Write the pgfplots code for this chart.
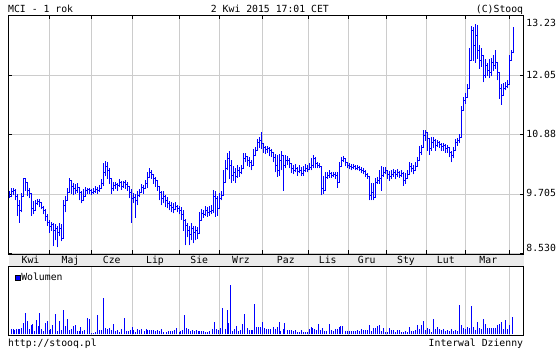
\documentclass[border=0pt]{standalone}
\usepackage{pgfplots}
\pgfplotsset{compat=1.18}
\usepackage{pgfplotstable}
\usepackage{fontspec}
\setmainfont{DejaVu Sans Mono}
\setmonofont{DejaVu Sans Mono}
\definecolor{gridc}{RGB}{204,204,204}
\definecolor{stripc}{RGB}{235,235,235}
\definecolor{pblue}{RGB}{0,0,255}

\pgfplotstableread{
x c h l
9 9.67 9.78 9.63
11 9.76 9.84 9.65
13 9.78 9.84 9.69
15 9.67 9.82 9.59
17 9.49 9.72 9.29
19 9.39 9.59 9.15
21 9.67 9.74 9.35
23 10.02 10.04 9.74
25 9.94 10.02 9.78
27 9.78 9.88 9.67
29 9.72 9.84 9.63
31 9.43 9.59 9.29
33 9.39 9.57 9.31
35 9.53 9.59 9.43
37 9.57 9.61 9.49
39 9.55 9.61 9.45
41 9.45 9.55 9.41
43 9.39 9.47 9.31
45 9.27 9.41 9.19
47 9.15 9.31 9.09
49 9.07 9.21 8.95
51 9.11 9.17 8.99
53 8.99 9.15 8.68
55 9.03 9.13 8.80
57 8.95 9.09 8.66
59 9.03 9.15 8.88
61 8.84 9.13 8.78
63 9.49 9.59 9.31
65 9.59 9.67 9.35
67 9.74 9.84 9.59
69 9.98 10.04 9.74
71 9.86 9.98 9.72
73 9.82 9.94 9.69
75 9.78 9.92 9.71
77 9.84 9.94 9.74
79 9.74 9.82 9.59
81 9.59 9.78 9.53
83 9.67 9.82 9.59
85 9.78 9.86 9.69
87 9.80 9.84 9.72
89 9.78 9.84 9.72
91 9.74 9.82 9.69
93 9.76 9.84 9.72
95 9.80 9.88 9.74
97 9.78 9.86 9.72
99 9.82 9.90 9.76
101 9.92 10.02 9.82
103 10.14 10.32 9.88
105 10.26 10.36 10.08
107 10.18 10.34 10.02
109 10.02 10.22 9.92
111 9.82 9.98 9.72
113 9.88 9.96 9.78
115 9.90 9.96 9.82
117 9.88 9.94 9.78
119 9.94 10.02 9.86
121 9.86 9.98 9.80
123 9.94 9.98 9.84
125 9.90 10.00 9.82
127 9.86 9.96 9.78
129 9.74 9.86 9.63
131 9.63 9.82 9.15
133 9.65 9.74 9.53
135 9.59 9.72 9.25
137 9.69 9.78 9.49
139 9.74 9.82 9.65
141 9.84 9.92 9.74
143 9.82 9.90 9.72
145 9.92 10.00 9.82
147 10.04 10.14 9.84
149 10.14 10.22 10.04
151 10.10 10.18 10.02
153 10.02 10.10 9.92
155 9.98 10.06 9.86
157 9.86 9.96 9.78
159 9.74 9.84 9.59
161 9.63 9.78 9.49
163 9.67 9.78 9.53
165 9.59 9.69 9.45
167 9.53 9.65 9.43
169 9.49 9.57 9.39
171 9.45 9.55 9.35
173 9.41 9.53 9.33
175 9.47 9.55 9.39
177 9.43 9.49 9.35
179 9.39 9.47 9.31
181 9.31 9.45 9.21
183 9.19 9.39 8.99
185 9.09 9.23 8.70
187 8.99 9.15 8.86
189 8.92 9.09 8.70
191 9.03 9.15 8.80
193 8.95 9.09 8.74
195 8.99 9.09 8.80
197 8.93 9.07 8.82
199 9.19 9.35 9.03
201 9.33 9.41 9.23
203 9.31 9.39 9.25
205 9.39 9.47 9.29
207 9.35 9.45 9.27
209 9.37 9.47 9.29
211 9.39 9.49 9.31
213 9.67 9.80 9.33
215 9.63 9.78 9.27
217 9.43 9.67 9.29
219 9.63 9.74 9.53
221 9.69 9.78 9.59
223 9.94 10.18 9.74
225 10.22 10.38 10.06
227 10.42 10.53 10.18
229 10.28 10.57 10.02
231 10.08 10.38 9.94
233 10.14 10.26 9.98
235 10.06 10.22 9.94
237 10.18 10.28 10.04
239 10.14 10.24 10.06
241 10.22 10.28 10.10
243 10.42 10.53 10.22
245 10.46 10.53 10.34
247 10.38 10.46 10.26
249 10.34 10.44 10.24
251 10.28 10.38 10.18
253 10.48 10.61 10.34
255 10.57 10.65 10.46
257 10.73 10.81 10.57
259 10.77 10.85 10.63
261 10.71 10.93 10.61
263 10.63 10.71 10.53
265 10.59 10.67 10.51
267 10.61 10.67 10.53
269 10.57 10.65 10.46
271 10.53 10.61 10.44
273 10.44 10.53 10.34
275 10.28 10.51 10.14
277 10.18 10.48 10.06
279 10.38 10.51 10.08
281 10.48 10.57 10.18
283 10.28 10.46 9.78
285 10.38 10.48 10.22
287 10.38 10.46 10.28
289 10.32 10.42 10.22
291 10.22 10.32 10.12
293 10.18 10.28 10.10
295 10.22 10.30 10.14
297 10.16 10.24 10.08
299 10.18 10.28 10.12
301 10.12 10.24 10.08
303 10.18 10.26 10.08
305 10.22 10.30 10.14
307 10.20 10.28 10.14
309 10.24 10.32 10.18
311 10.28 10.42 10.18
313 10.42 10.48 10.22
315 10.32 10.44 10.22
317 10.28 10.34 10.22
319 10.26 10.32 10.22
321 9.82 10.14 9.69
323 9.78 10.08 9.72
325 10.04 10.14 9.88
327 10.08 10.14 10.02
329 10.12 10.18 10.04
331 10.08 10.14 10.04
333 10.10 10.14 10.06
335 10.08 10.14 10.02
337 9.94 10.14 9.84
339 10.26 10.34 10.08
341 10.38 10.44 10.28
343 10.42 10.46 10.34
345 10.34 10.42 10.26
347 10.28 10.34 10.22
349 10.26 10.32 10.20
351 10.24 10.30 10.18
353 10.26 10.30 10.20
355 10.22 10.28 10.18
357 10.24 10.28 10.18
359 10.20 10.26 10.16
361 10.18 10.24 10.12
363 10.16 10.22 10.10
365 10.10 10.18 10.06
367 10.06 10.12 10.02
369 9.69 10.02 9.59
371 9.74 9.94 9.59
373 9.65 9.94 9.59
375 9.94 10.04 9.88
377 9.98 10.06 9.92
379 10.02 10.18 9.92
381 10.08 10.26 9.78
383 10.14 10.24 10.06
385 10.18 10.24 10.10
387 10.10 10.18 10.02
389 10.06 10.16 9.98
391 10.10 10.18 10.02
393 10.14 10.20 10.06
395 10.10 10.18 10.02
397 10.14 10.20 10.06
399 10.08 10.16 10.04
401 10.12 10.18 10.06
403 9.98 10.14 9.88
405 10.02 10.12 9.92
407 10.10 10.18 10.02
409 10.26 10.34 10.14
411 10.22 10.32 10.14
413 10.18 10.28 10.10
415 10.26 10.34 10.18
417 10.38 10.44 10.26
419 10.53 10.67 10.38
421 10.63 10.69 10.48
423 10.87 10.97 10.65
425 10.93 10.97 10.77
427 10.81 10.93 10.57
429 10.61 10.83 10.48
431 10.73 10.85 10.57
433 10.77 10.85 10.63
435 10.67 10.81 10.57
437 10.73 10.79 10.65
439 10.69 10.77 10.63
441 10.65 10.73 10.57
443 10.67 10.73 10.57
445 10.61 10.71 10.53
447 10.63 10.69 10.53
449 10.53 10.63 10.44
451 10.48 10.57 10.34
453 10.57 10.65 10.42
455 10.73 10.81 10.61
457 10.77 10.83 10.67
459 10.83 10.89 10.73
461 11.36 11.46 10.83
463 11.56 11.64 11.40
465 11.62 11.70 11.50
467 11.80 11.88 11.62
469 12.35 12.59 11.82
471 12.94 13.04 12.59
473 12.65 13.02 12.35
475 12.85 13.08 12.31
477 12.55 13.06 12.39
479 12.35 12.65 12.19
481 12.45 12.59 12.23
483 12.05 12.45 11.92
485 12.25 12.39 12.00
487 12.15 12.31 12.05
489 12.11 12.39 12.00
491 12.31 12.41 12.04
493 12.25 12.45 12.15
495 12.31 12.55 12.19
497 12.11 12.29 11.96
499 11.80 11.96 11.60
501 11.66 11.88 11.48
503 11.80 11.90 11.72
505 11.84 11.92 11.76
507 11.88 11.96 11.80
509 12.35 12.45 11.92
511 12.51 12.55 12.39
513 12.88 13.02 12.49
}\price

\pgfplotstableread{
x v
11 5
13 5
14 4
16 5
18 5
19 5
21 6
23 11
25 21
27 13
29 5
31 9
32 10
34 3
36 14
38 8
39 21
41 5
43 3
45 11
47 13
49 4
50 5
52 9
55 20
57 3
59 13
61 4
63 24
65 8
67 15
69 4
71 5
73 8
75 9
77 3
79 3
80 7
82 3
84 4
87 16
89 15
91 1
93 1
95 2
97 19
99 4
101 4
103 36
105 6
107 5
109 6
111 4
113 10
115 3
117 4
119 2
121 5
124 16
126 3
128 3
130 4
132 7
133 4
135 2
137 5
139 4
141 5
144 3
146 5
147 4
149 4
151 4
153 4
155 3
157 4
159 3
161 5
163 2
166 2
168 3
170 3
172 3
174 4
176 6
179 2
180 3
182 4
184 19
186 6
188 5
190 3
192 4
194 3
196 4
198 3
199 3
201 3
203 3
205 2
207 2
209 3
212 5
214 12
216 5
218 4
220 6
222 26
225 5
227 24
228 11
230 49
232 3
234 5
236 8
238 3
240 4
242 10
244 20
247 6
249 4
251 4
252 4
254 30
256 7
258 7
260 7
262 12
264 6
266 5
268 5
270 5
273 7
275 5
277 7
279 12
280 3
283 5
284 11
287 4
289 4
291 4
293 3
295 4
297 2
299 2
301 4
303 2
305 2
307 2
309 5
311 7
312 6
314 5
316 4
318 10
320 4
322 6
324 3
326 3
329 10
331 4
333 3
335 5
337 5
339 7
340 8
342 8
345 3
347 3
349 3
351 3
353 3
355 3
357 4
359 3
361 5
363 4
365 4
367 4
369 9
371 3
373 6
375 6
377 8
379 9
381 3
383 6
385 2
387 2
389 6
391 4
393 4
395 2
397 4
399 4
401 2
403 2
405 3
407 2
409 7
411 3
413 3
415 4
417 9
419 5
421 9
423 13
425 4
427 6
429 5
431 2
433 15
435 5
437 7
439 5
441 4
443 5
445 3
447 4
449 3
451 5
453 3
455 4
457 3
459 29
461 9
463 6
465 5
467 7
469 6
471 28
473 7
475 4
477 12
479 6
481 5
483 15
485 10
487 6
489 6
491 6
493 6
495 6
497 9
499 10
501 12
503 5
505 14
507 5
509 9
512 17
}\vol

\begin{document}
\begin{tikzpicture}[font=\fontsize{9.8}{10}\selectfont]
\path[use as bounding box] (0pt,0pt) rectangle (560pt,350pt);
\fill[stripc] (8.5pt,83.5pt) rectangle (523.5pt,95.5pt);
\begin{axis}[
  at={(8.5pt,95.5pt)}, anchor=south west, scale only axis,
  width=515pt, height=239pt,
  xmin=8, xmax=523, ymin=8.52, ymax=13.24,
  xtick={49,91,132,179,219,262,308,348,386,426,465,509},
  xticklabels={},
  extra x ticks={30,70,111.2,154.5,198.7,240.5,285.3,327.2,366.2,405.5,445.3,487.8},
  extra x tick labels={Kwi,Maj,Cze,Lip,Sie,Wrz,Paz,Lis,Gru,Sty,Lut,Mar},
  extra x tick style={grid=none, major tick length=0pt,
     tick label style={anchor=base, yshift=-9pt, inner sep=0pt}},
  ytick={8.53,9.705,10.88,12.05,13.23},
  yticklabels={\raisebox{4.8pt}{8.530},9.705,10.88,12.05,\raisebox{-7.9pt}{13.23}},
  yticklabel pos=right,
  yticklabel style={anchor=base west, inner sep=0pt, xshift=2.7pt, yshift=-2.3pt},
  xmajorgrids, ymajorgrids,
  grid style={gridc, line width=1pt},
  tick align=inside, major tick length=4pt,
  tick style={black, line width=1pt},
  axis line style={black, line width=1pt},
  clip=true,
]
\addplot[color=pblue, draw=pblue, line width=1.2pt, mark=none,
  quiver={u=0, v=\thisrow{h}-\thisrow{l},
          every arrow/.append style={draw=pblue, line width=1.2pt}}]
  table[x=x, y=l] {\price};
\addplot[const plot, color=pblue, line width=1.3pt, mark=none]
  table[x=x, y=c] {\price};
\end{axis}
\begin{axis}[
  at={(8.5pt,14.5pt)}, anchor=south west, scale only axis,
  width=515pt, height=69pt,
  xmin=8, xmax=523, ymin=-1, ymax=68,
  xtick={49,91,132,179,219,262,308,348,386,426,465,509},
  xticklabels={}, ytick=\empty,
  major tick length=0pt,
  xmajorgrids, grid style={gridc, line width=1pt},
  axis line style={black, line width=1pt},
  legend style={at={(0,1)}, anchor=north west, draw=none, fill=none,
     inner sep=0pt, xshift=6pt, yshift=-5.5pt,
     nodes={inner sep=1pt}},
  legend image code/.code={\filldraw[draw=black, fill=pblue, line width=0.4pt] (0pt,-2.6pt) rectangle (5.2pt,2.6pt);},
]
\addplot[ycomb, color=pblue, draw=pblue, line width=1.1pt, mark=none] table[x=x, y=v] {\vol};
\addlegendentry{Wolumen}
\end{axis}
\node[anchor=base west, inner sep=0pt] at (8pt,337.7pt) {MCI - 1 rok};
\node[anchor=base west, inner sep=0pt] at (210.7pt,337.7pt) {2 Kwi 2015 17:01 CET};
\node[anchor=base east, inner sep=0pt] at (523.3pt,337.7pt) {(C)Stooq};
\node[anchor=base west, inner sep=0pt] at (8pt,3.5pt) {http://stooq.pl};
\node[anchor=base east, inner sep=0pt] at (523.3pt,3.5pt) {Interwal Dzienny};
\end{tikzpicture}
\end{document}
